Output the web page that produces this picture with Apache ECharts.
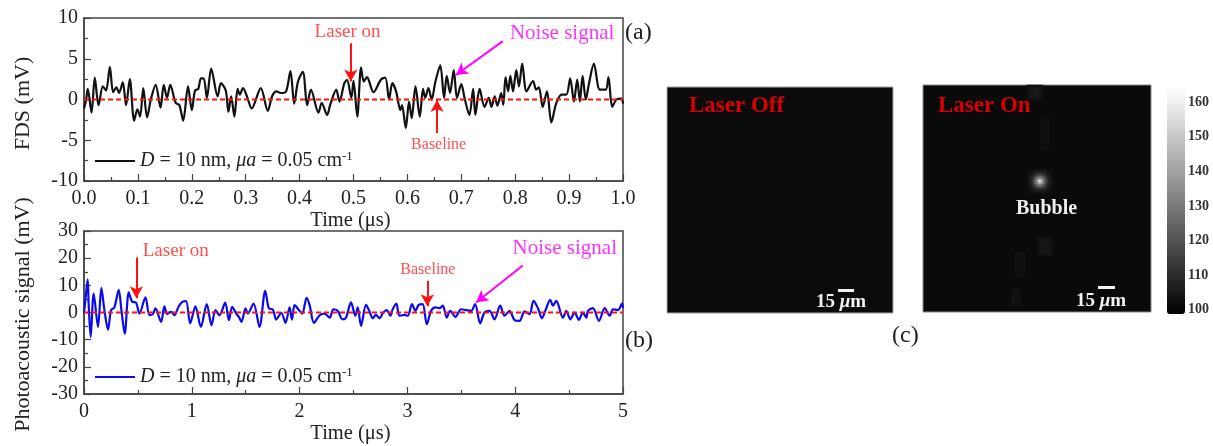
<!DOCTYPE html>
<html><head><meta charset="utf-8">
<style>html,body{margin:0;padding:0;background:#fff}#c{width:1213px;height:446px}</style>
<script src="https://cdn.jsdelivr.net/npm/echarts@6/dist/echarts.min.js"></script>
</head><body><div id="c"></div>
<script>
// time (us), FDS (mV)
const fdsTrace = [[0,-1.1],[.004,0],[.007,1.3],[.014,-1.6],[.02,2.7],[.027,-.7],[.035,1.6],[.041,1.1],[.048,4],[.054,.9],[.06,1.5],[.065,.8],[.072,2.1],[.078,-.7],[.085,2.5],[.093,-2.6],[.099,-1.2],[.104,-2.1],[.11,1.4],[.117,-2.2],[.124,0],[.133,1.8],[.142,-1],[.148,1.8],[.154,.2],[.16,1.8],[.17,-.4],[.177,-.7],[.184,-2.6],[.193,1.6],[.2,-1.3],[.206,1.1],[.212,1.3],[.217,2.6],[.222,2.6],[.228,.2],[.236,3.8],[.248,.4],[.254,2],[.263,1.1],[.268,-1.5],[.273,.4],[.279,-2.1],[.285,1.3],[.289,.6],[.295,1.4],[.303,.25],[.311,-1.1],[.328,1.4],[.341,-1.4],[.349,.4],[.357,1],[.365,.8],[.375,1],[.383,3.5],[.39,-.5],[.397,2.2],[.406,3.4],[.414,-.7],[.421,1.2],[.435,-1.6],[.441,-.4],[.451,-1.9],[.457,-.6],[.468,1.2],[.474,-.25],[.483,2],[.488,2.4],[.496,.2],[.5,2.3],[.507,-2.1],[.514,3.9],[.519,2.2],[.525,2.75],[.537,.9],[.551,2.45],[.559,2.7],[.566,0],[.572,2],[.579,1],[.587,-1.3],[.59,-.7],[.597,-3.5],[.603,-.25],[.608,-2.3],[.615,1.6],[.623,-2.1],[.629,1.3],[.633,.2],[.639,1.4],[.645,0],[.652,2.2],[.661,4.2],[.668,.2],[.673,2.9],[.679,.8],[.686,3.6],[.692,.2],[.7,1.9],[.706,.2],[.715,-1.9],[.722,1.3],[.726,-1.9],[.734,1.3],[.743,-.9],[.751,.2],[.756,-.9],[.762,.4],[.767,-.75],[.774,.8],[.778,-.65],[.782,2.75],[.787,1],[.791,2.9],[.796,1],[.802,3.6],[.807,1.6],[.813,4.4],[.821,1],[.833,2.25],[.839,1.2],[.844,1.5],[.851,-.9],[.859,1],[.867,-2.8],[.876,-.5],[.886,.6],[.895,.6],[.902,2.6],[.909,-.25],[.915,2.45],[.92,-.25],[.925,2.9],[.931,0],[.937,2],[.946,4.4],[.957,1.2],[.968,1.2],[.973,2.75],[.98,-.9],[.988,0],[.997,.1],[1,-.5]];
// time (us), photoacoustic signal (mV)
const paTrace = [[0,-.4],[.019,7],[.034,12.2],[.043,3.3],[.062,-9],[.09,7],[.13,-5.3],[.161,9.1],[.189,.9],[.223,-6.3],[.251,.9],[.282,1.9],[.322,8.3],[.347,.9],[.378,-7.8],[.415,7.4],[.446,4],[.483,3.6],[.514,-.4],[.57,5.6],[.607,-1],[.638,-.6],[.663,1.5],[.715,-3.5],[.746,2.3],[.771,-.6],[.808,.2],[.839,-1],[.879,2.3],[.916,4],[.947,4.2],[.985,-4],[1.034,2.3],[1.084,-5.3],[1.139,3.1],[1.183,-4.7],[1.22,.9],[1.257,-1],[1.31,3.6],[1.344,-2.8],[1.375,2.1],[1.412,-.4],[1.437,-1.6],[1.461,-3.5],[1.498,1.5],[1.52,-.4],[1.573,3.3],[1.628,-5.3],[1.681,8],[1.715,1.5],[1.752,1.1],[1.783,-2.6],[1.83,-.1],[1.87,-3.8],[1.907,1.9],[1.929,-2.6],[1.954,2.7],[2,.6],[2.025,-.4],[2.065,5.4],[2.093,2.7],[2.133,-3.8],[2.186,-1],[2.232,-.4],[2.279,-1.9],[2.313,1.2],[2.353,.6],[2.399,-2.5],[2.43,-1.9],[2.477,3.7],[2.517,-1.2],[2.539,1.9],[2.57,-4.9],[2.616,2.8],[2.647,.6],[2.678,-2.1],[2.709,-.9],[2.74,-2.1],[2.777,0],[2.808,.9],[2.842,-1.2],[2.864,1.2],[2.898,3.3],[2.926,-1.2],[2.972,-.9],[3.003,-1.2],[3.043,3.1],[3.074,.6],[3.105,2.8],[3.142,3.1],[3.18,-4.3],[3.22,.6],[3.26,1.9],[3.297,1.6],[3.328,2.5],[3.365,-1.9],[3.396,.6],[3.446,-1.6],[3.498,1.2],[3.545,.9],[3.591,.6],[3.628,3.1],[3.675,-4],[3.715,0],[3.762,.6],[3.808,-2.5],[3.861,2.5],[3.901,-1.2],[3.947,.6],[3.994,-2.8],[4.04,-3.1],[4.087,.4],[4.133,-.6],[4.17,4.3],[4.211,1.6],[4.248,-2.1],[4.282,.9],[4.325,4.7],[4.35,2.5],[4.381,4.3],[4.443,-1.9],[4.474,.6],[4.511,-2.5],[4.551,0],[4.591,-2.7],[4.628,0],[4.659,-1.9],[4.675,.6],[4.721,1.6],[4.777,-3.1],[4.83,1.6],[4.876,-1.2],[4.907,1.2],[4.954,.9],[4.991,3.3],[5,1.6]];
const baselineA = [[0,0],[1,0]];
const baselineB = [[0,0],[5,0]];
const xTicksA = {min:0,max:1,interval:.1};
const yTicksA = {min:-10,max:10,interval:5};
const xTicksB = {min:0,max:5,interval:1};
const yTicksB = {min:-30,max:30,interval:10};
const colorbarTicks = [100,110,120,130,140,150,160];
const colorbarRange = [98.3,163.7];
// annotations: text [x,y,label], arrows [x0,y0,x1,y1], in data units
const notesA = [[.489,8.25,'Laser on','#f22',19],[.887,8.1,'Noise signal','#f0f',21],[.658,-5.6,'Baseline','#f22',16]];
const arrowsA = [[.495,6.9,.495,2.2,'#f11'],[.777,7.16,.69,3,'#f0f'],[.655,-4.1,.655,-.05,'#f11']];
const notesB = [[.851,22.7,'Laser on','#f22',19],[4.46,23.4,'Noise signal','#f0f',21],[3.19,15.9,'Baseline','#f22',16]];
const arrowsB = [[.486,20.2,.486,5.2,'#f11'],[4.07,17.3,3.637,3.7,'#f0f'],[3.185,11.7,3.185,2.3,'#f11']];
// gray levels of the bright spot in "Laser On", 13 x 13 cells around the bubble
const bubbleCentre = [58,48];
const bubbleLevels = [
 [102,102,102,102,103,103,103,103,103,102,102,102,102],
 [102,102,103,104,105,105,105,105,105,104,103,102,102],
 [102,103,104,106,108,109,110,109,108,106,104,103,102],
 [102,104,106,110,113,116,118,116,113,110,106,104,102],
 [103,105,108,113,120,127,129,127,120,113,108,105,103],
 [103,105,109,116,127,136,142,136,127,116,109,105,103],
 [103,105,110,118,129,142,163,142,129,118,110,105,103],
 [103,105,109,116,127,136,142,136,127,116,109,105,103],
 [103,105,108,113,120,127,129,127,120,113,108,105,103],
 [102,104,106,110,113,116,118,116,113,110,106,104,102],
 [102,103,104,106,108,109,110,109,108,106,104,103,102],
 [102,102,103,104,105,105,105,105,105,104,103,102,102],
 [102,102,102,102,103,103,103,103,103,102,102,102,102]];
// faint patches along the vertical streak: [colFrom,colTo,rowFrom,rowTo,level]
const streakPatches = [[52,59,0,7,102.5],[53,58,1,6,103.5],[54,57,2,5,105],[59,62,16,32,102.5],[57,64,76,85,102.5],[58,63,77,84,103.5],[59,62,78,83,104.5],[46,50,84,96,102.5],[44,48,102,110,102.5],[45,47,103,109,103.5]];
const laserOffCells = [[20,30,102],[70,55,102],[40,80,102],[90,25,102]];
const cellCount = 114;

const serif = '"Liberation Serif","Times New Roman",serif';
const ink = '#222';
const legendRich = {
  i:{fontFamily:serif,fontStyle:'italic',fontSize:20,color:ink},
  s:{fontFamily:serif,fontSize:13,color:ink,padding:[0,0,9,0]}
};
const legendText = '{i|D} = 10 nm, {i|μa} = 0.05 cm{s|-1}';
const cells = Array.from({length:cellCount},(_,i)=>i);
const bubbleCells = [];
bubbleLevels.forEach((r,j)=>r.forEach((v,i)=>bubbleCells.push([bubbleCentre[0]-6+i,bubbleCentre[1]-6+j,v])));
const streakLevel = {};
streakPatches.forEach(p=>{for(let c=p[0];c<=p[1];c++)for(let r=p[2];r<=p[3];r++)streakLevel[c+'_'+r]=[c,r,p[4]];});
const streakCells = Object.values(streakLevel);

function valueX(t,idx,fmt,nameGap){return Object.assign({},t,{
  type:'value',gridIndex:idx,name:'Time (μs)',nameLocation:'middle',nameGap:nameGap,
  nameTextStyle:{fontFamily:serif,fontSize:20.5,color:ink,padding:[0,6,0,0]},
  axisLine:{show:true,onZero:false,lineStyle:{color:'#444',width:1.5}},
  axisTick:{show:true,inside:true,length:7,lineStyle:{color:'#444',width:1.2}},
  minorTick:{show:true,splitNumber:2,length:4,lineStyle:{color:'#444',width:1.2}},
  splitLine:{show:false},
  axisLabel:{fontFamily:serif,fontSize:20,color:ink,margin:8,formatter:fmt,showMinLabel:true,showMaxLabel:true}
});}
function valueY(t,idx,name,nameGap,pad){return Object.assign({},t,{
  type:'value',gridIndex:idx,name:name,nameLocation:'middle',nameGap:nameGap,
  nameTextStyle:{fontFamily:serif,fontSize:22,color:ink,padding:[0,pad,0,0]},
  axisLine:{show:true,onZero:false,lineStyle:{color:'#444',width:1.5}},
  axisTick:{show:true,inside:true,length:7,lineStyle:{color:'#444',width:1.2}},
  minorTick:{show:true,splitNumber:2,length:4,lineStyle:{color:'#444',width:1.2}},
  splitLine:{show:false},
  axisLabel:{fontFamily:serif,fontSize:20,color:ink,margin:6,showMinLabel:true,showMaxLabel:true}
});}
function hiddenCat(idx,inverse){return {type:'category',gridIndex:idx,data:cells,show:false,inverse:!!inverse};}
function noteSeries(name,idx,notes,arrows){return {
  name:name,type:'scatter',xAxisIndex:idx,yAxisIndex:idx,symbolSize:0,silent:true,z:5,
  data:notes.map(n=>({value:[n[0],n[1]],label:{show:true,position:'inside',formatter:n[2],color:n[3],fontSize:n[4],fontFamily:serif}})),
  markLine:{silent:true,animation:false,symbol:['none','arrow'],symbolSize:[10,12],label:{show:false},
    data:arrows.map(a=>[{coord:[a[0],a[1]],lineStyle:{color:a[4],width:2,type:'solid'}},{coord:[a[2],a[3]]}])}
};}
function legendFor(name,top){return {data:[{name:name,icon:'rect'}],left:95,top:top,itemWidth:40,itemHeight:2,padding:0,selectedMode:false,
  formatter:()=>legendText,textStyle:{fontFamily:serif,fontSize:20,color:ink,rich:legendRich}};}
function imgText(x,y,style){return {type:'text',left:x,top:y,silent:true,style:Object.assign({fontFamily:serif},style)};}
const scaleRich = {i:{fontFamily:serif,fontStyle:'italic',fontWeight:'bold',fontSize:19,color:'#f2f2f2'}};

const chart = echarts.init(document.getElementById('c'),null,{renderer:'canvas'});
chart.setOption({
  animation:false,backgroundColor:'#fff',
  grid:[
    {left:84,top:18,width:539,height:163,show:true,borderColor:'#444',borderWidth:1.5},
    {left:84,top:231,width:539,height:163,show:true,borderColor:'#444',borderWidth:1.5},
    {left:667,top:87,width:226,height:226,show:true,backgroundColor:'#0b0b0b',borderColor:'#aaa',borderWidth:1},
    {left:923,top:85,width:228,height:227,show:true,backgroundColor:'#0a0a0a',borderColor:'#888',borderWidth:1},
    {left:1167,top:89.5,width:18,height:226,show:false}
  ],
  xAxis:[
    valueX(xTicksA,0,v=>v.toFixed(1),28),
    valueX(xTicksB,1,v=>String(v),28),
    hiddenCat(2),hiddenCat(3),
    {type:'value',gridIndex:4,show:false}
  ],
  yAxis:[
    valueY(yTicksA,0,'FDS (mV)',50,8),
    valueY(yTicksB,1,'Photoacoustic signal (mV)',50,4),
    hiddenCat(2,true),hiddenCat(3,true),
    {type:'value',gridIndex:4,min:colorbarRange[0],max:colorbarRange[1],position:'right',
     axisLine:{show:false},axisTick:{show:false},splitLine:{show:false},
     axisLabel:{customValues:colorbarTicks,fontFamily:serif,fontSize:14,fontWeight:'bold',color:'#333',margin:3}}
  ],
  legend:[legendFor('FDS',150),legendFor('Photoacoustic',366)],
  visualMap:{type:'continuous',seriesIndex:[6,7],min:colorbarRange[0],max:colorbarRange[1],
    left:1167,top:88,itemWidth:18,itemHeight:226,calculable:false,text:null,showLabel:false,
    inRange:{color:['#000','#fff']},padding:0},
  series:[
    {name:'FDS',type:'line',xAxisIndex:0,yAxisIndex:0,data:fdsTrace,symbol:'none',smooth:.3,lineStyle:{color:'#111',width:2.2},itemStyle:{color:'#111'},z:2},
    {name:'BaselineA',type:'line',xAxisIndex:0,yAxisIndex:0,data:baselineA,symbol:'none',lineStyle:{color:'#f11',width:1.8,type:[5,3]},z:3},
    noteSeries('NotesA',0,notesA,arrowsA),
    {name:'Photoacoustic',type:'line',xAxisIndex:1,yAxisIndex:1,data:paTrace,symbol:'none',smooth:.3,lineStyle:{color:'#0a0af0',width:2.2},itemStyle:{color:'#0a0af0'},z:2},
    {name:'BaselineB',type:'line',xAxisIndex:1,yAxisIndex:1,data:baselineB,symbol:'none',lineStyle:{color:'#f11',width:1.8,type:[5,3]},z:3},
    noteSeries('NotesB',1,notesB,arrowsB),
    {name:'LaserOff',type:'heatmap',xAxisIndex:2,yAxisIndex:2,data:laserOffCells,silent:true},
    {name:'LaserOn',type:'heatmap',xAxisIndex:3,yAxisIndex:3,data:streakCells.concat(bubbleCells),silent:true}
  ],
  graphic:[
    imgText(625,21,{text:'(a)',fontSize:24,fill:ink}),
    imgText(625,329,{text:'(b)',fontSize:24,fill:ink}),
    imgText(892,324,{text:'(c)',fontSize:24,fill:ink}),
    imgText(689,95,{text:'Laser Off',fontSize:23,fontWeight:'bold',fill:'#d80000'}),
    imgText(938,95,{text:'Laser On',fontSize:23,fontWeight:'bold',fill:'#d80000'}),
    imgText(1016,199,{text:'Bubble',fontSize:20,fontWeight:'bold',fill:'#eee'}),
    imgText(816,293,{text:'15 {i|μ}m',fontSize:19,fontWeight:'bold',fill:'#f2f2f2',rich:scaleRich}),
    imgText(1076,292,{text:'15 {i|μ}m',fontSize:19,fontWeight:'bold',fill:'#f2f2f2',rich:scaleRich}),
    {type:'rect',silent:true,shape:{x:838,y:289,width:16,height:3},style:{fill:'#f2f2f2'}},
    {type:'rect',silent:true,shape:{x:1098,y:286,width:17,height:3},style:{fill:'#f2f2f2'}}
  ]
});
</script></body></html>
